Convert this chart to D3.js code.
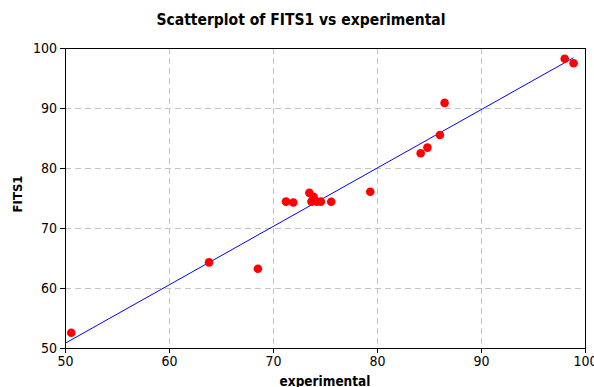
<!DOCTYPE html>
<html>
<head>
<meta charset="utf-8">
<script src="https://cdn.jsdelivr.net/npm/d3@7"></script>
<style>
  html, body { margin: 0; padding: 0; background: #fff; }
  svg { display: block; }
  text { font-family: "DejaVu Sans Condensed", "DejaVu Sans", sans-serif; fill: #000; }
</style>
</head>
<body>
<svg id="chart" width="594" height="387"></svg>
<script>
// Observed (experimental) values and the fitted values FITS1
const experimental = [50.6, 63.85, 68.55, 71.25, 71.95, 73.5, 73.9, 73.7, 74.2, 74.6, 75.6, 79.35, 84.2, 84.85, 86.05, 86.5, 98.05, 98.9];
const fits1        = [52.55, 64.27, 63.2, 74.4, 74.25, 75.85, 75.2, 74.4, 74.4, 74.4, 74.38, 76.05, 82.45, 83.4, 85.5, 90.85, 98.2, 97.45];

// Regression line endpoints
const lineX = [50, 98.9];
const lineY = [50.77, 98.38];

const xTicks = [50, 60, 70, 80, 90, 100];
const yTicks = [50, 60, 70, 80, 90, 100];

const svg = d3.select("#chart");
const m = { left: 65, right: 9, top: 48, bottom: 39 };
const W = 594, H = 387;
const x = d3.scaleLinear().domain([50, 100]).range([m.left, W - m.right]);
const y = d3.scaleLinear().domain([50, 100]).range([H - m.bottom, m.top]);

// Dashed grid
const grid = svg.append("g");
grid.selectAll("line.gx").data(xTicks.slice(1, -1)).join("line")
  .attr("x1", d => x(d) + 0.5).attr("x2", d => x(d) + 0.5)
  .attr("y1", y(100)).attr("y2", y(50))
  .attr("stroke", "#c4c4c4").attr("stroke-dasharray", "6,4");
grid.selectAll("line.gy").data(yTicks.slice(1, -1)).join("line")
  .attr("y1", d => Math.round(y(d)) + 0.5).attr("y2", d => Math.round(y(d)) + 0.5)
  .attr("x1", x(50)).attr("x2", x(100))
  .attr("stroke", "#c4c4c4").attr("stroke-dasharray", "6,4");

// Axes
const xAxis = d3.axisBottom(x).tickValues(xTicks).tickSize(5).tickPadding(3);
const yAxis = d3.axisLeft(y).tickValues(yTicks).tickSize(5).tickPadding(3);
const gx = svg.append("g").attr("transform", `translate(0,${y(50)})`).call(xAxis);
const gy = svg.append("g").attr("transform", `translate(${x(50)},0)`).call(yAxis);
[gx, gy].forEach(g => {
  g.select(".domain").remove();
  g.selectAll(".tick line").attr("stroke", "#000");
  g.selectAll(".tick text").style("font-size", "14px").attr("fill", "#000");
});

// Plot frame
svg.append("rect")
  .attr("x", x(50) + 0.5).attr("y", y(100) + 0.5)
  .attr("width", x(100) - x(50)).attr("height", y(50) - y(100))
  .attr("fill", "none").attr("stroke", "#000");

// Fitted line
svg.append("line")
  .attr("x1", x(lineX[0])).attr("y1", y(lineY[0]))
  .attr("x2", x(lineX[1])).attr("y2", y(lineY[1]))
  .attr("stroke", "#0000ff").attr("stroke-width", 1);

// Points
svg.append("g").selectAll("circle").data(experimental.map((e, i) => [e, fits1[i]])).join("circle")
  .attr("cx", d => x(d[0])).attr("cy", d => y(d[1]))
  .attr("r", 4.3).attr("fill", "#ff0000");

// Titles
svg.append("text").attr("x", 301).attr("y", 25).attr("text-anchor", "middle")
  .style("font-size", "15.5px").style("font-weight", "bold")
  .text("Scatterplot of FITS1 vs experimental");
svg.append("text").attr("x", 325).attr("y", 386).attr("text-anchor", "middle")
  .style("font-size", "13.5px").style("font-weight", "bold")
  .text("experimental");
svg.append("text").attr("transform", "translate(22,194) rotate(-90)").attr("text-anchor", "middle")
  .style("font-size", "13px").style("font-weight", "bold")
  .text("FITS1");
</script>
</body>
</html>
